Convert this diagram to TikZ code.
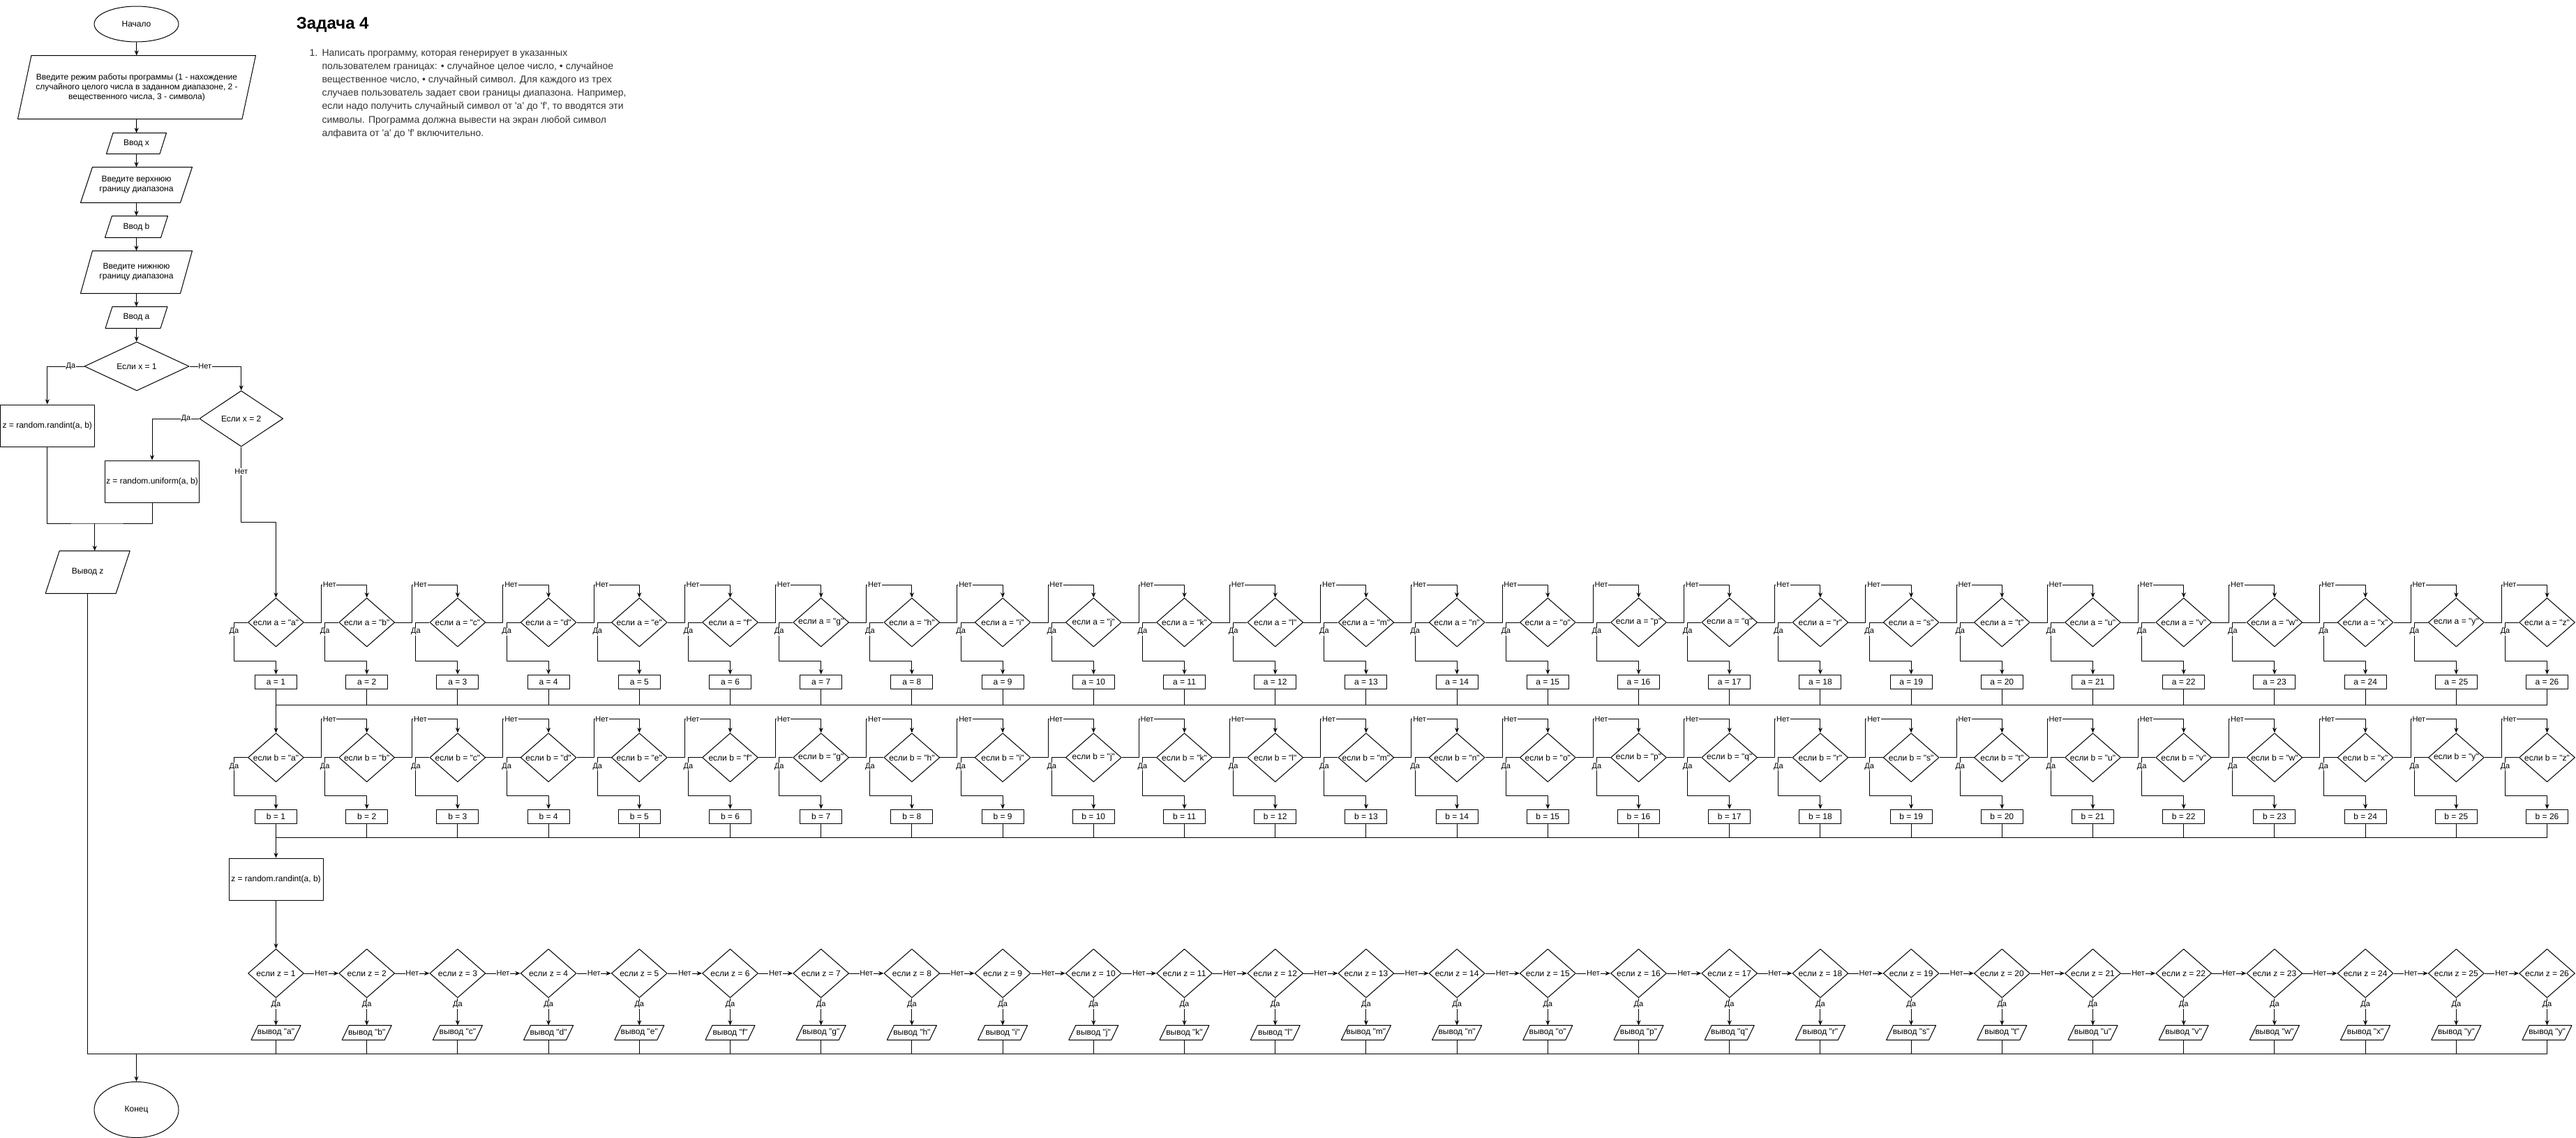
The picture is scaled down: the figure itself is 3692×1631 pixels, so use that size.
\documentclass[tikz,border=0pt]{standalone}
\usepackage{fontspec}
\setmainfont{Liberation Sans}[Ligatures=TeXOff]
\usetikzlibrary{shapes.geometric,arrows.meta,calc,positioning}
\definecolor{bodygray}{HTML}{333333}
% parallelogram drawn over a plain node
\newcommand\ioshape[2]{\draw ($(#1.north west)+(#2,0)$) -- (#1.north east) -- ($(#1.south east)+(-#2,0)$) -- (#1.south west) -- cycle;}

\begin{document}
\begin{tikzpicture}[x=0.75pt, y=-0.75pt, line width=0.75pt, line join=round, >={Stealth[length=5.5pt,width=4.5pt]},
  font=\fontsize{9}{10.5}\selectfont,
  term/.style={draw, ellipse, inner sep=0pt, minimum width=90.75pt, minimum height=#1},
  blk/.style={draw, rectangle, inner sep=1pt, minimum width=101.25pt, minimum height=45pt},
  setbox/.style={draw, rectangle, inner sep=0pt, minimum width=45pt, minimum height=15pt},
  io/.style 2 args={rectangle, inner sep=0pt, align=center, minimum width=#1, minimum height=#2},
  cond/.style 2 args={draw, diamond, inner sep=0pt, minimum width=#1, minimum height=#2},
  ifbox/.style={cond={60pt}{52.5pt}},
  lbl/.style={font=\fontsize{8.25}{9}\selectfont, fill=white, inner sep=0.6pt}]
\useasboundingbox (0,0) rectangle (3692,1631);

% task text
\node[anchor=base west, font=\bfseries\fontsize{18}{21}\selectfont] (title) at (420,41) {Задача 4};
\node[anchor=base west, inner sep=0pt, text=bodygray, font=\fontsize{10.5}{12}\selectfont] (num) at (443,80) {1.};
\foreach \ln [count=\k] in {{Написать программу, которая генерирует в указанных},
  {пользователем границах: • случайное целое число, • случайное},
  {вещественное число, • случайный символ. Для каждого из трех},
  {случаев пользователь задает свои границы диапазона. Например,},
  {если надо получить случайный символ от 'a' до 'f', то вводятся эти},
  {символы. Программа должна вывести на экран любой символ},
  {алфавита от 'a' до 'f' включительно.}}
  \node[anchor=base west, inner sep=0pt, text=bodygray, font=\fontsize{10.5}{12}\selectfont] (task\k) at (461,{80+19.2*(\k-1)}) {\ln};

% input part
\node[term={38.25pt}] (start) at (195.5,34.5) {Начало};
\node[io={255pt}{67.5pt}] (mode) at (196,125) {Введите режим работы программы (1 - нахождение\\случайного целого числа в заданном диапазоне, 2 -\\вещественного числа, 3 - символа)};
\ioshape{mode}{19.5}
\node[io={63.75pt}{21.75pt}] (inx) at (195.5,205.5) {Ввод x};
\ioshape{inx}{9.5}
\node[io={119.25pt}{37.5pt}] (inup) at (195.5,265) {Введите верхнюю\\границу диапазона};
\ioshape{inup}{17}
\node[io={66.75pt}{22.5pt}] (inb) at (195.5,325) {Ввод b};
\ioshape{inb}{10}
\node[io={119.25pt}{45pt}] (inlow) at (195.5,390) {Введите нижнюю\\границу диапазона};
\ioshape{inlow}{17}
\node[io={66pt}{22.5pt}] (ina) at (195.5,455) {Ввод a};
\ioshape{ina}{10}
\node[cond={112.5pt}{52.5pt}] (ifone) at (196,525) {Если x = 1};
\node[cond={90pt}{60pt}] (iftwo) at (345.7,600) {Если x = 2};
\node[blk] (randi) at (67.8,610) {z = random.randint(a, b)};
\node[blk] (unif) at (218,690) {z = random.uniform(a, b)};
\node[io={90pt}{45pt}] (outz) at (125.7,820) {Вывод z};
\ioshape{outz}{20}
\node[term={60pt}] (finish) at (195.5,1590.5) {Конец};

\draw[->] (start) -- (mode);
\draw[->] (mode) -- (inx);
\draw[->] (inx) -- (inup);
\draw[->] (inup) -- (inb);
\draw[->] (inb) -- (inlow);
\draw[->] (inlow) -- (ina);
\draw[->] (ina) -- (ifone);
\draw[->] (ifone.west) -| node[lbl,pos=0.18]{Да} (randi.north);
\draw[->] (ifone.east) -| node[lbl,pos=0.15]{Нет} (iftwo.north);
\draw[->] (iftwo.west) -| node[lbl,pos=0.14]{Да} (unif.north);
\coordinate (joinz) at (135.7,750);
\draw (randi.south) |- (joinz) -| (unif.south);
\draw[->] (joinz) -- (joinz |- outz.north);

% letter columns
\foreach \sym [count=\i] in {a,b,c,d,e,f,g,h,i,j,k,l,m,n,o,p,q,r,s,t,u,v,w,x,y,z} {
  \pgfmathsetmacro\xx{395.5+130.2*(\i-1)}
  \node[ifbox] (ifa\i) at (\xx,892) {\makebox[0pt]{если a = "\sym"}};
  \node[setbox] (seta\i) at (\xx,977) {a = \i};
  \node[ifbox] (ifb\i) at (\xx,1085.7) {\makebox[0pt]{если b = "\sym"}};
  \node[setbox] (setb\i) at (\xx,1170) {b = \i};
  \node[ifbox] (ifz\i) at (\xx,1395) {\makebox[0pt]{если z = \i}};
  \coordinate (ja\i) at (\xx-60,947);
  \coordinate (jb\i) at (\xx-60,1140);
  \coordinate (na\i) at (\xx+65,838);
  \coordinate (nb\i) at (\xx+65,1030.7);
  \coordinate (ma\i) at (\xx,1010.7);
  \coordinate (mb\i) at (\xx,1200.7);
  \coordinate (mz\i) at (\xx,1510);
}
\foreach \sym [count=\i] in {a,b,c,d,e,f,g,h,i,j,k,l,m,n,o,p,q,r,s,t,u,v,w,x,y,y} {
  \pgfmathsetmacro\xx{395.5+130.2*(\i-1)}
  \node[io={52.5pt}{15pt}] (outc\i) at (\xx,1480) {\makebox[0pt]{вывод "\sym"}};
  \ioshape{outc\i}{10}
}
\node[blk] (zr) at (395.5,1260) {z = random.randint(a, b)};
\coordinate (nettwo) at (345.7,748);
\coordinate (mend) at (195.5,1510);

\draw[->] (iftwo.south) -- node[lbl,pos=0.33]{Нет} (nettwo) -| (ifa1.north);

\foreach \i in {1,...,26} {
  \draw[->] (ifa\i.west) -| node[lbl,pos=0.62]{Да} (ja\i) -| (seta\i.north);
  \draw (seta\i.south) -- (ma\i);
  \draw[->] (ifb\i.west) -| node[lbl,pos=0.62]{Да} (jb\i) -| (setb\i.north);
  \draw (setb\i.south) -- (mb\i);
  \draw[->] (ifz\i.south) -- node[lbl,pos=0.25]{Да} (outc\i.north);
  \draw (outc\i.south) -- (mz\i);
}
\foreach \i [evaluate=\i as \j using int(\i+1)] in {1,...,25} {
  \draw[->] (ifa\i.east) -| (na\i) -| node[lbl,pos=0.09]{Нет} (ifa\j.north);
  \draw[->] (ifb\i.east) -| (nb\i) -| node[lbl,pos=0.09]{Нет} (ifb\j.north);
  \draw[->] (ifz\i.east) -- node[lbl]{Нет} (ifz\j.west);
}

\draw (ma1) -- (ma26);
\draw[->] (ma1) -- (ifb1.north);
\draw (mb1) -- (mb26);
\draw[->] (mb1) -- (zr.north);
\draw[->] (zr.south) -- (ifz1.north);
\draw (outz.south) |- (mz26);
\draw[->] (mend) -- (finish.north);
\end{tikzpicture}
\end{document}
